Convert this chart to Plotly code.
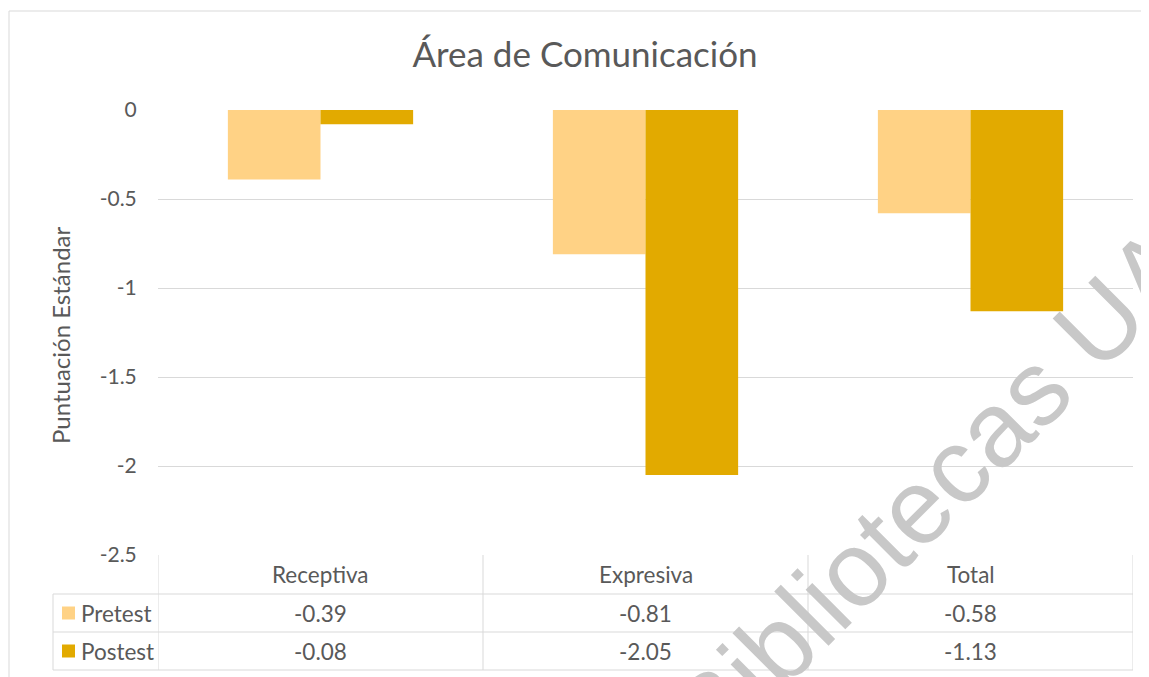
import plotly.graph_objects as go

categories = ["Receptiva", "Expresiva", "Total"]
series_names = ["Pretest", "Postest"]
pretest = [-0.39, -0.81, -0.58]
postest = [-0.08, -2.05, -1.13]
tick_vals = [0, -0.5, -1, -1.5, -2, -2.5]
tick_text = ["0", "-0.5", "-1", "-1.5", "-2", "-2.5"]

colors = ["#FFD285", "#E2AA00"]
grid = "#D9D9D9"
txt = "#595959"
font = "Lato, 'Open Sans', sans-serif"

# page body has an 8px margin, so the figure is drawn a bit smaller and
# every position below is given in screen pixels
OFF = 8
W, H = 1149 - OFF, 677 - OFF
L, R, T, B = 158, 1133, 110, 555


def px(x):
    return (x - L) / (R - L)


def py(y):
    return (B - y) / (B - T)


fig = go.Figure()
for name, vals, c in zip(series_names, [pretest, postest], colors):
    fig.add_trace(go.Bar(x=categories, y=vals, name=name, marker=dict(color=c, line=dict(width=0))))

shapes = []
# outer chart frame
shapes.append(dict(type="rect", xref="paper", yref="paper", x0=px(9), x1=px(1190),
                   y0=py(720), y1=py(11), line=dict(color=grid, width=1), layer="below"))
# data table grid
rows_y = [555, 594, 632, 670]
for ry in rows_y[1:]:
    shapes.append(dict(type="line", xref="paper", yref="paper", x0=px(53), x1=px(R),
                       y0=py(ry), y1=py(ry), line=dict(color=grid, width=1)))
shapes.append(dict(type="line", xref="paper", yref="paper", x0=px(53), x1=px(53),
                   y0=py(rows_y[1]), y1=py(rows_y[3]), line=dict(color=grid, width=1)))
for i in range(len(categories) + 1):
    shapes.append(dict(type="line", xref="x", yref="paper", x0=i - 0.5, x1=i - 0.5,
                       y0=py(rows_y[0]), y1=py(rows_y[3]), line=dict(color=grid, width=1)))

annotations = []
cell_font = dict(size=22.5, color=txt, family=font)
# header row
for cat in categories:
    annotations.append(dict(x=cat, y=py((rows_y[0] + rows_y[1]) / 2), xref="x", yref="paper",
                            xanchor="center", yanchor="middle",
                            text=cat, showarrow=False, font=cell_font))
# series rows with legend keys
for k, (name, vals) in enumerate(zip(series_names, [pretest, postest])):
    yc = (rows_y[k + 1] + rows_y[k + 2]) / 2
    shapes.append(dict(type="rect", xref="paper", yref="paper", x0=px(62), x1=px(75),
                       y0=py(yc + 6.5), y1=py(yc - 6.5), fillcolor=colors[k], line=dict(width=0)))
    annotations.append(dict(x=px(79), y=py(yc), xref="paper", yref="paper",
                            xanchor="left", yanchor="middle",
                            text=name, showarrow=False, font=cell_font))
    for cat, v in zip(categories, vals):
        annotations.append(dict(x=cat, y=py(yc), xref="x", yref="paper",
                                xanchor="center", yanchor="middle",
                                text=f"{v:.2f}", showarrow=False, font=cell_font))

# axis title
annotations.append(dict(x=px(60), y=py(335), xref="paper", yref="paper",
                        xanchor="center", yanchor="middle", text="Puntuación Estándar",
                        textangle=-90, showarrow=False, font=dict(size=24, color=txt, family=font)))
# watermark
annotations.append(dict(x=px(933), y=py(489), xref="paper", yref="paper",
                        xanchor="center", yanchor="middle", text="Bibliotecas UA",
                        textangle=-45, showarrow=False,
                        font=dict(size=106, color="#C8C8C8", family="Liberation Sans, Arial, sans-serif")))

fig.update_layout(
    width=W,
    height=H,
    margin=dict(l=L - OFF, r=W - (R - OFF), t=T - OFF, b=H - (B - OFF)),
    paper_bgcolor="white",
    plot_bgcolor="white",
    barmode="group",
    bargap=0.43,
    bargroupgap=0,
    showlegend=False,
    title=dict(text="Área de Comunicación", x=(585 - OFF) / W, xref="container", xanchor="center",
               y=1 - (55 - OFF) / H, yref="container", yanchor="middle",
               font=dict(size=35, color=txt, family=font)),
    shapes=shapes,
    annotations=annotations,
)
fig.update_xaxes(showticklabels=False, showgrid=False, zeroline=False, showline=False,
                 range=[-0.5, 2.5])
fig.update_yaxes(range=[-2.5, 0], tickvals=tick_vals, ticktext=tick_text, showgrid=True,
                 gridcolor=grid, gridwidth=1, zeroline=False, showline=False,
                 ticks="outside", ticklen=16, tickcolor="rgba(0,0,0,0)",
                 tickfont=dict(size=21, color=txt, family=font))

fig.write_html("out.html")
